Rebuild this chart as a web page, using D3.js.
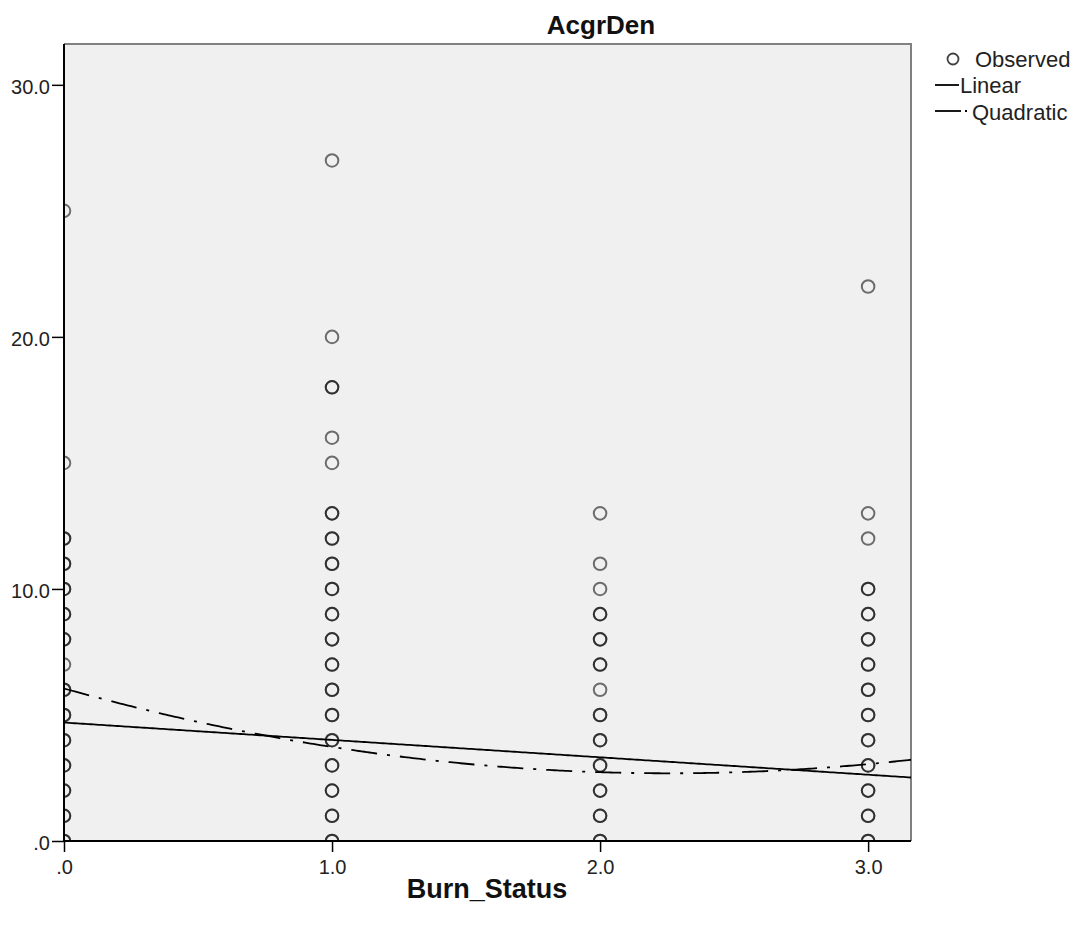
<!DOCTYPE html>
<html><head><meta charset="utf-8">
<script src="https://cdn.jsdelivr.net/npm/d3@7"></script>
<style>body{margin:0;background:#fff;} text{font-family:"Liberation Sans",Arial,sans-serif;}</style>
</head><body>
<svg id="c" width="1078" height="934"></svg>
<script>
// Observed AcgrDen values per Burn_Status group (repeats = overlapping points)
const burnLevels = [0, 1, 2, 3];
const obs0 = [25, 15, 12,12, 11,11, 10,10, 9,9, 8,8, 7, 6,6, 5,5, 4,4, 3,3, 2,2, 1,1, 0,0];
const obs1 = [27, 20, 18,18, 16, 15, 13,13, 12,12, 11,11, 10,10, 9,9, 8,8, 7,7, 6,6, 5,5, 4,4, 3,3, 2,2, 1,1, 0,0];
const obs2 = [13, 11, 10, 9,9, 8,8, 7,7, 6, 5,5, 4,4, 3,3, 2,2, 1,1, 0,0];
const obs3 = [22, 13, 12, 10,10, 9,9, 8,8, 7,7, 6,6, 5,5, 4,4, 3,3, 2,2, 1,1, 0,0];
const linearCoef = [4.70, -0.69];          // intercept, slope
const quadCoef = [6.05, -2.98, 0.66];      // a, b, c
const xTicks = [0, 1, 2, 3];
const yTicks = [0, 10, 20, 30];
const legendLabels = ["Observed", "Linear", "Quadratic"];

const svg = d3.select("#c");
const L = 64, R = 911, T = 44, B = 841;
const x = d3.scaleLinear().domain([0, 3.16]).range([L, R]);
const y = d3.scaleLinear().domain([0, 31.62]).range([B, T]);

svg.append("defs").append("clipPath").attr("id", "clip")
  .append("rect").attr("x", L).attr("y", T).attr("width", R - L).attr("height", B - T);

svg.append("rect").attr("x", L).attr("y", T).attr("width", R - L).attr("height", B - T)
  .attr("fill", "#f0f0f0");
// top & right frame
svg.append("path").attr("d", `M${L},${T}H${R}V${B}`).attr("fill", "none")
  .attr("stroke", "#808080").attr("stroke-width", 2);

const g = svg.append("g").attr("clip-path", "url(#clip)");
const groups = [obs0, obs1, obs2, obs3];
const pts = [];
groups.forEach((arr, i) => arr.forEach(v => pts.push({bx: burnLevels[i], v})));
g.selectAll("circle.o").data(pts).enter().append("circle")
  .attr("cx", d => x(d.bx)).attr("cy", d => y(d.v)).attr("r", 6.3)
  .attr("fill", "none").attr("stroke", "#000").attr("stroke-opacity", 0.55).attr("stroke-width", 2);

const xs = d3.range(0, 3.161, 0.01);
const lin = d3.line().x(d => x(d)).y(d => y(linearCoef[0] + linearCoef[1] * d));
const quad = d3.line().x(d => x(d)).y(d => y(quadCoef[0] + quadCoef[1] * d + quadCoef[2] * d * d));
g.append("path").attr("d", lin(xs)).attr("fill", "none").attr("stroke", "#000").attr("stroke-width", 1.8);
g.append("path").attr("d", quad(xs)).attr("fill", "none").attr("stroke", "#000").attr("stroke-width", 1.8)
  .attr("stroke-dasharray", "26,10,3,10");

// axes
const fmt = d => d === 0 ? ".0" : d3.format(".1f")(d);
const xa = svg.append("g").attr("transform", `translate(0,${B})`)
  .call(d3.axisBottom(x).tickValues(xTicks).tickFormat(fmt).tickSizeOuter(0).tickSize(11).tickPadding(8));
const ya = svg.append("g").attr("transform", `translate(${L},0)`)
  .call(d3.axisLeft(y).tickValues(yTicks).tickFormat(fmt).tickSizeOuter(0).tickSize(12).tickPadding(2));
[xa, ya].forEach(a => {
  a.select(".domain").attr("stroke", "#000").attr("stroke-width", 2);
  a.selectAll(".tick line").attr("stroke", "#000").attr("stroke-width", 1.5);
  a.selectAll("text").attr("font-size", 20).attr("fill", "#222")
    .attr("font-family", "'Liberation Sans',Arial,sans-serif");
});
ya.selectAll(".tick text").attr("dy", "0.42em");
xa.select(".domain").attr("d", `M${L - 1},0H${R}`);
ya.select(".domain").attr("d", `M0,${T}V${B + 1}`);

svg.append("text").attr("x", 601).attr("y", 34).attr("text-anchor", "middle")
  .attr("font-size", 26).attr("font-weight", "bold").attr("fill", "#111").text("AcgrDen");
svg.append("text").attr("x", 487).attr("y", 898).attr("text-anchor", "middle")
  .attr("font-size", 27).attr("font-weight", "bold").attr("fill", "#111").text("Burn_Status");

// legend
const lg = svg.append("g");
lg.append("circle").attr("cx", 953).attr("cy", 59).attr("r", 5.5).attr("fill", "none")
  .attr("stroke", "#000").attr("stroke-opacity", 0.75).attr("stroke-width", 1.8);
lg.append("line").attr("x1", 935).attr("x2", 959).attr("y1", 85).attr("y2", 85)
  .attr("stroke", "#000").attr("stroke-width", 1.8);
lg.append("line").attr("x1", 935).attr("x2", 961).attr("y1", 111).attr("y2", 111)
  .attr("stroke", "#000").attr("stroke-width", 1.8);
lg.append("line").attr("x1", 965).attr("x2", 967).attr("y1", 111).attr("y2", 111)
  .attr("stroke", "#000").attr("stroke-width", 1.8);
const lx = [975, 960, 972], ly = [67, 93, 120];
legendLabels.forEach((t, i) => lg.append("text").attr("x", lx[i]).attr("y", ly[i])
  .attr("font-size", 22).attr("fill", "#222").text(t));
</script>
</body></html>
